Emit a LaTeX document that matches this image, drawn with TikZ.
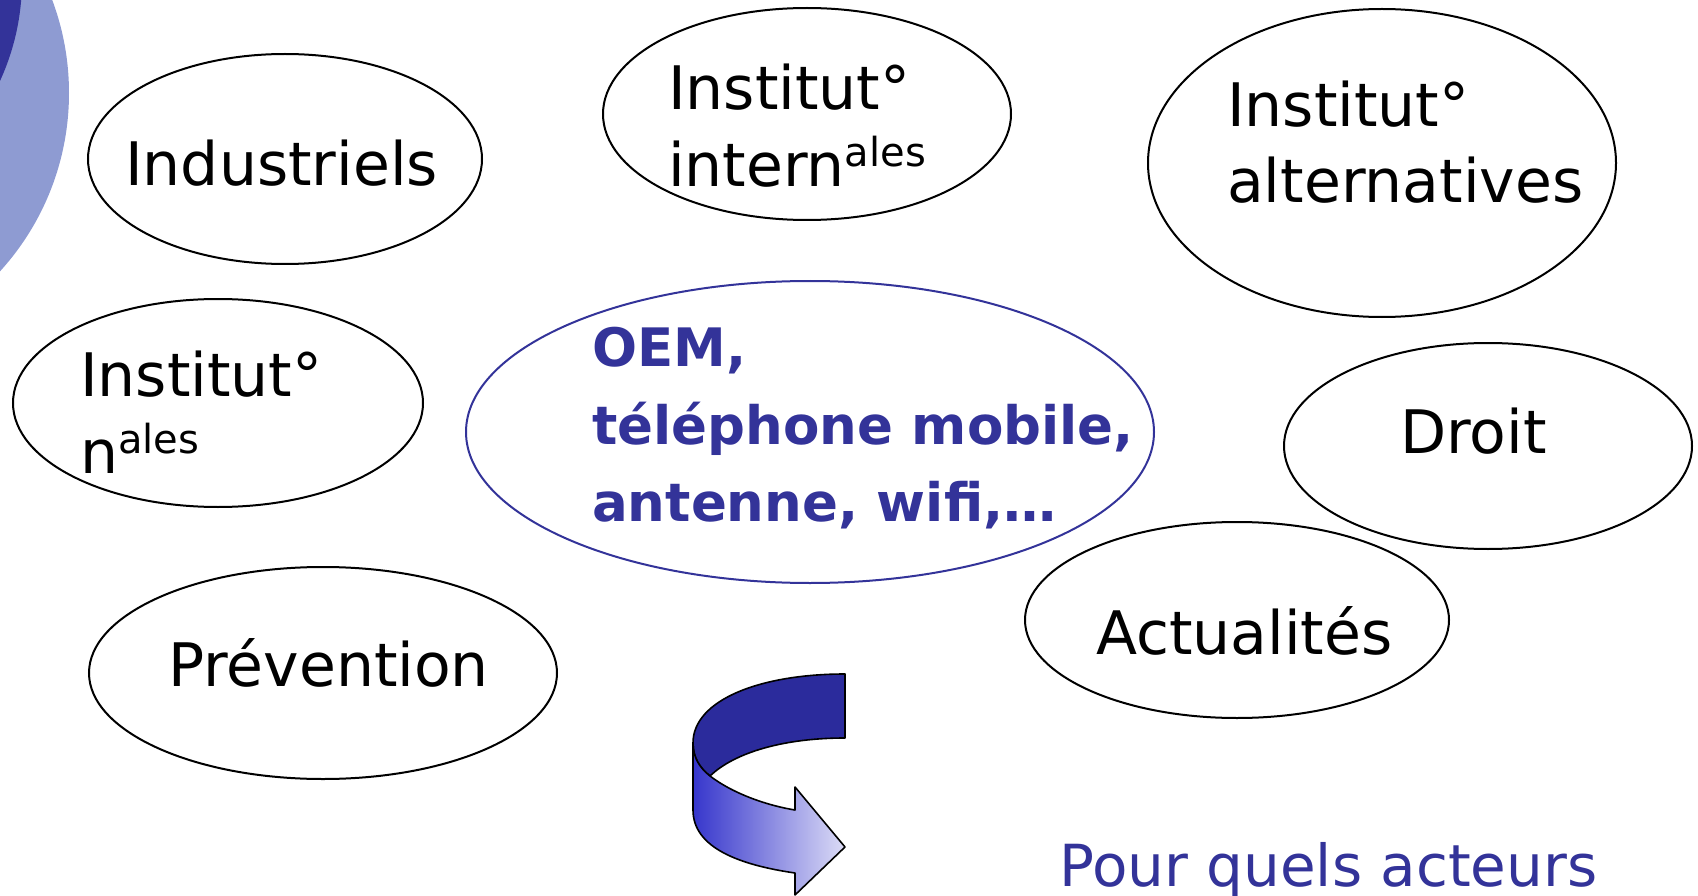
\documentclass[tikz,border=0pt]{standalone}
\usepackage{fontspec}
\setmainfont{DejaVu Sans}
\usetikzlibrary{shapes.geometric}
\definecolor{navy}{HTML}{333399}
\definecolor{lightnavy}{HTML}{8E9BD2}
\definecolor{bandtop}{HTML}{2B2B9C}
\definecolor{gradL}{HTML}{3636CC}
\definecolor{gradR}{HTML}{DCDCF6}
\newcommand\myexp[1]{\raisebox{20pt}{\fontsize{40}{40}\selectfont #1}}
\tikzset{
  bubble/.style={ellipse, draw=black, line width=2pt, inner sep=0pt},
  lbl/.style={anchor=base west, inner sep=0pt, font=\fontsize{60}{60}\selectfont},
  oemlbl/.style={anchor=base west, inner sep=0pt, text=navy, font=\fontsize{53}{53}\selectfont\bfseries},
  bandline/.style={draw=black, line width=1.6pt, line join=round}
}
\begin{document}
\begin{tikzpicture}[x=1pt,y=-1pt]
\useasboundingbox (0,0) rectangle (1698,896);
\begin{scope}
  \clip (0,0) rectangle (1698,896);
  \fill[lightnavy] (-196,93) circle[radius=265pt];
  \fill[navy] (-220,-20) circle[radius=242pt];
\end{scope}

% ellipses
\node[bubble, minimum width=394pt, minimum height=210pt] (eInd) at (285,159) {};
\node[bubble, minimum width=408pt, minimum height=212pt] (eInt) at (807,114) {};
\node[bubble, minimum width=468pt, minimum height=308pt] (eAlt) at (1382,163) {};
\node[bubble, minimum width=410pt, minimum height=208pt] (eNat) at (218,403) {};
\node[bubble, draw=navy, minimum width=688pt, minimum height=302pt] (eOem) at (810,432) {};
\node[bubble, minimum width=408pt, minimum height=206pt] (eDro) at (1488,446) {};
\node[bubble, minimum width=424pt, minimum height=196pt] (eAct) at (1237,620) {};
\node[bubble, minimum width=468pt, minimum height=212pt] (ePre) at (323,673) {};

% texts
\node[lbl] (tInd) at (125,186) {Industriels};
\node[lbl] (tInt1) at (668,110) {Institut°};
\node[lbl] (tInt2) at (668,187) {intern\myexp{ales}};
\node[lbl] (tAlt1) at (1227,127) {Institut°};
\node[lbl] (tAlt2) at (1227,203) {alternatives};
\node[lbl] (tNat1) at (80,396) {Institut°};
\node[lbl] (tNat2) at (80,473) {n\myexp{ales}};
\node[oemlbl] (tOem1) at (592,366) {OEM,};
\node[oemlbl] (tOem2) at (592,444) {téléphone mobile,};
\node[oemlbl] (tOem3) at (592,521) {antenne, wifi,…};
\node[lbl] (tDro) at (1400,453) {Droit};
\node[lbl] (tAct) at (1096,654) {Actualités};
\node[lbl] (tPre) at (168,686) {Prévention};
\node[lbl, text=navy, font=\fontsize{58}{58}\selectfont] (tPour) at (1059,886) {Pour quels acteurs};

% curved arrow
\coordinate (A) at (693,743);
\coordinate (B) at (845,674);
\coordinate (C) at (845,738);
\coordinate (D) at (710,776);
\coordinate (E) at (795,810);
\coordinate (F) at (795,787);
\coordinate (G) at (845,847);
\coordinate (H) at (795,895);
\coordinate (I) at (795,873);
\coordinate (J) at (693,810);
\path[bandline, fill=bandtop] (A) .. controls (693,700) and (760,674) .. (B) -- (C)
  .. controls (785,738) and (735,752) .. (D) .. controls (700,768) and (693,758) .. (A) -- cycle;
\path[bandline, left color=gradL, right color=gradR] (A) .. controls (693,758) and (700,768) .. (D)
  .. controls (735,795) and (770,806) .. (E) -- (F) -- (G) -- (H) -- (I)
  .. controls (740,865) and (693,848) .. (J) -- cycle;
\end{tikzpicture}
\end{document}
